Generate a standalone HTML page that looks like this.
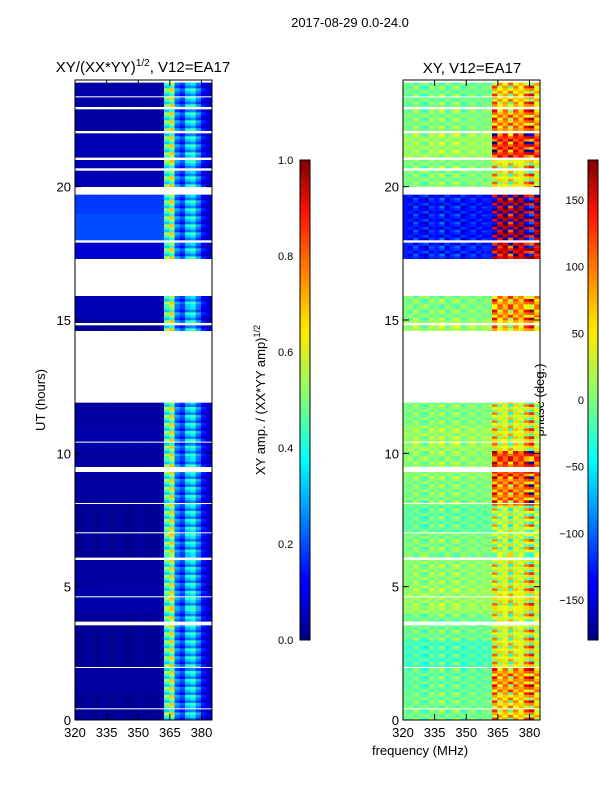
<!DOCTYPE html>
<html><head><meta charset="utf-8"><style>
body{margin:0;background:#fff;font-family:"Liberation Sans",sans-serif}
svg text{font-family:"Liberation Sans",sans-serif;fill:#000}
</style></head><body>
<svg id="fig" width="600" height="800" viewBox="0 0 600 800" xmlns="http://www.w3.org/2000/svg">
<defs>
<linearGradient id="jet" x1="0" y1="1" x2="0" y2="0">
<stop offset="0" stop-color="#00007f"/><stop offset="0.11" stop-color="#0000ff"/><stop offset="0.125" stop-color="#0000ff"/>
<stop offset="0.34" stop-color="#00dcff"/><stop offset="0.375" stop-color="#00ffff"/><stop offset="0.5" stop-color="#7dff7a"/>
<stop offset="0.64" stop-color="#ffea00"/><stop offset="0.66" stop-color="#ffe000"/><stop offset="0.89" stop-color="#ff1300"/><stop offset="1" stop-color="#7f0000"/>
</linearGradient>
</defs>
<text x="350" y="27" font-size="13" text-anchor="middle">2017-08-29 0.0-24.0</text>
<text x="143" y="72" font-size="15" text-anchor="middle">XY/(XX*YY)<tspan font-size="10" dy="-6">1/2</tspan><tspan dy="6">, V12=EA17</tspan></text>
<text x="472" y="73" font-size="15" text-anchor="middle">XY, V12=EA17</text>
<text transform="translate(45,400) rotate(-90)" font-size="13" text-anchor="middle">UT (hours)</text>
<text x="420" y="755" font-size="13" text-anchor="middle">frequency (MHz)</text>
<text transform="translate(265,400) rotate(-90)" font-size="13" text-anchor="middle">XY amp. / (XX*YY amp)<tspan font-size="9" dy="-5">1/2</tspan></text>
<text transform="translate(544,400) rotate(-90)" font-size="13" text-anchor="middle">phase (deg.)</text>
<g id="left"></g>
<g id="right"></g>
<g id="axes"></g>
<rect x="300" y="160" width="10" height="480" fill="url(#jet)" stroke="#000"/>
<rect x="588" y="160" width="10" height="480" fill="url(#jet)" stroke="#000"/>
<g id="cbticks"></g>
</svg>
<script>
// data
const segments=[[0,0.4],[0.45,1.95],[2.0,3.55],[3.7,4.6],[4.65,6.0],[6.1,7.0],[7.05,8.1],[8.15,9.3],[9.5,10.4],[10.45,11.9],[14.6,14.8],[14.9,15.9],[17.3,17.9],[18.0,19.7],[20.0,20.6],[20.7,21.0],[21.1,22.0],[22.1,22.9],[23.0,23.35],[23.4,23.9]];
const freqs=[321,323.5,326,328.5,331,333.5,336,338.5,341,343.5,346,348.5,351,353.5,356,358.5,361,363.5,366,368.5,371,373.5,376,378.5,381,383.5];
const ampCols=[0.02,0.02,0.03,0.02,0.02,0.03,0.02,0.02,0.03,0.02,0.02,0.02,0.03,0.02,0.02,0.02,0.04,0.55,0.68,0.3,0.22,0.4,0.45,0.3,0.15,0.1];
const ampHour=[0.02,0.03,0.02,0.02,0.04,0.03,0.02,0.02,0.03,0.03,0.04,0.03,0.02,0.02,0.02,0.05,0.02,0.08,0.2,0.18,0.05,0.05,0.03,0.04];
const phaseLowHour=[-5,-10,-20,-5,10,5,0,-10,0,5,10,0,0,0,10,0,0,-125,-130,-130,0,10,0,-5];
const phaseHighHour=[60,80,40,30,40,30,20,20,90,110,40,30,0,0,60,80,0,150,170,170,40,120,80,60];
const phaseColAdj=[0,-15,25,-10,-30,20,0,35,-20,10,30,-25,0,20,-15,10,5,60,-40,20,-70,30,-20,60,90,-30];
const ticksX=[320,335,350,365,380], ticksY=[0,5,10,15,20];
const ampTicks=[0,0.2,0.4,0.6,0.8,1.0], phTicks=[-150,-100,-50,0,50,100,150];

function jet(v){v=Math.max(0,Math.min(1,v));
 const r=Math.max(0,Math.min(1,1.5-Math.abs(4*v-3))),g=Math.max(0,Math.min(1,1.5-Math.abs(4*v-2))),b=Math.max(0,Math.min(1,1.5-Math.abs(4*v-1)));
 return `rgb(${r*255|0},${g*255|0},${b*255|0})`;}
const NS="http://www.w3.org/2000/svg";
const Y0=720,Y1=80,T0=0,T1=24;
const yS=t=>Y0-(t-T0)/(T1-T0)*(Y0-Y1);
function xS(x0,f){return x0+(f-320)/65*137;}
function panel(gid,x0,val){
 const g=document.getElementById(gid);
 segments.forEach(s=>{
  for(let t=s[0];t<s[1]-1e-6;t+=0.1){
   const te=Math.min(t+0.1,s[1]);const h=Math.floor(t);
   freqs.forEach((f,c)=>{
    const r=document.createElementNS(NS,'rect');
    const xa=xS(x0,f-1.25),xb=xS(x0,f+1.25);
    r.setAttribute('x',xa);r.setAttribute('width',xb-xa+0.3);
    r.setAttribute('y',yS(te));r.setAttribute('height',yS(t)-yS(te)+0.3);
    r.setAttribute('fill',val(c,h,t));
    
    
    g.appendChild(r);
   });
  }
 });
}
panel('left',75,(c,h,t)=>{let v=ampCols[c];if(c<17)v=Math.max(v,ampHour[h]);else v=v*(0.6+0.4*((Math.floor(t*10)%3)/2));return jet(v);});
panel('right',403,(c,h,t)=>{const k=Math.floor(t*10)%3;let p=(c<17?phaseLowHour[h]:phaseHighHour[h])+phaseColAdj[c]*(k==0?1:(k==1?-0.6:0.3));
 p=((p+180)%360+360)%360-180;return jet((p+180)/360);});
const ax=document.getElementById('axes');
function add(tag,attrs,text){const e=document.createElementNS(NS,tag);for(const k in attrs)e.setAttribute(k,attrs[k]);if(text!==undefined)e.textContent=text;ax.appendChild(e);return e;}
[75,403].forEach((x0,pi)=>{
 const fr=add('rect',{x:x0,y:80,width:137,height:640,fill:'none',stroke:'#000'});
 
 ticksX.forEach(f=>{const x=xS(x0,f);add('line',{x1:x,x2:x,y1:720,y2:714,stroke:'#000'});add('line',{x1:x,x2:x,y1:80,y2:86,stroke:'#000'});
  const t=add('text',{x:x,y:737,'font-size':13,'text-anchor':'middle'},f);});
 ticksY.forEach(v=>{const y=yS(v);add('line',{x1:x0,x2:x0+6,y1:y,y2:y,stroke:'#000'});add('line',{x1:x0+137,x2:x0+131,y1:y,y2:y,stroke:'#000'});
  const t=add('text',{x:x0-4,y:y+5,'font-size':13,'text-anchor':'end'},v);});
});
ampTicks.forEach(v=>{const y=640-v*480;add('line',{x1:304,x2:310,y1:y,y2:y,stroke:'#000'});
 const t=add('text',{x:278,y:y+4,'font-size':11},v.toFixed(1));});
phTicks.forEach(v=>{const y=640-(v+180)/360*480;add('line',{x1:592,x2:598,y1:y,y2:y,stroke:'#000'});
 const t=add('text',{x:584,y:y+4,'font-size':11,'text-anchor':'end'},v<0?'\u2212'+(-v):v);});
</script>
</body></html>
